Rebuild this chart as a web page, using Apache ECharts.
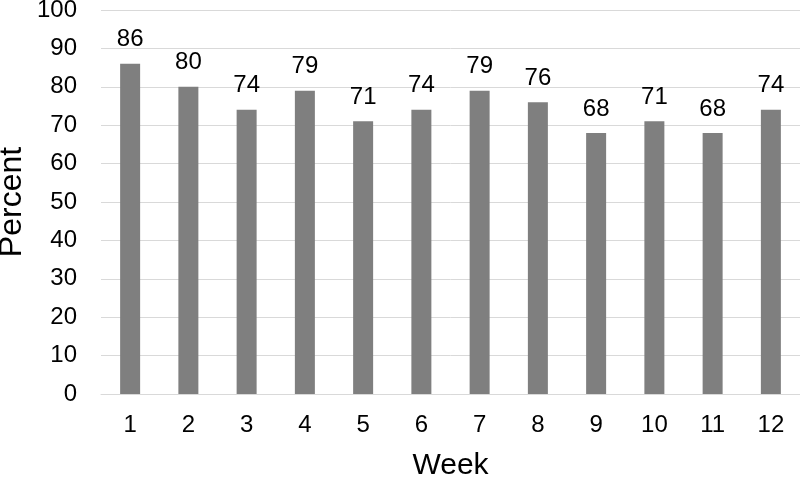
<!DOCTYPE html>
<html>
<head>
<meta charset="utf-8">
<script src="https://cdn.jsdelivr.net/npm/echarts@6/dist/echarts.min.js"></script>
<style>html,body{margin:0;padding:0;background:#fff}#c{width:800px;height:477px}</style>
</head>
<body>
<div id="c"></div>
<script>
const weeks = ['1','2','3','4','5','6','7','8','9','10','11','12'];
const percent = [86, 80, 74, 79, 71, 74, 79, 76, 68, 71, 68, 74];
const yMin = 0, yMax = 100, yStep = 10;

const chart = echarts.init(document.getElementById('c'), null, {renderer: 'canvas'});
const font = '"Liberation Sans", Arial, sans-serif';
chart.setOption({
  animation: false,
  backgroundColor: '#ffffff',
  grid: {left: 101, right: 0, top: 10, bottom: 83, containLabel: false, outerBoundsMode: 'none'},
  xAxis: {
    type: 'category',
    data: weeks,
    name: 'Week',
    nameLocation: 'middle',
    nameGap: 57,
    nameMoveOverlap: false,
    nameTextStyle: {fontFamily: font, fontSize: 30, color: '#000'},
    axisLine: {show: true, lineStyle: {color: '#d9d9d9', width: 1}},
    axisTick: {show: false},
    axisLabel: {fontFamily: font, fontSize: 24, color: '#000', margin: 19}
  },
  yAxis: {
    type: 'value',
    min: yMin, max: yMax, interval: yStep,
    name: 'Percent',
    nameLocation: 'middle',
    nameGap: 73,
    nameRotate: 90,
    nameMoveOverlap: false,
    nameTextStyle: {fontFamily: font, fontSize: 32, color: '#000'},
    axisLine: {show: false},
    axisTick: {show: false},
    axisLabel: {fontFamily: font, fontSize: 24, color: '#000', margin: 24},
    splitLine: {lineStyle: {color: '#d9d9d9', width: 1}}
  },
  series: [{
    type: 'bar',
    data: percent,
    barWidth: 20,
    itemStyle: {color: '#7f7f7f'},
    label: {show: true, position: 'top', distance: 12, fontFamily: font, fontSize: 24, color: '#000'}
  }]
});
</script>
</body>
</html>
